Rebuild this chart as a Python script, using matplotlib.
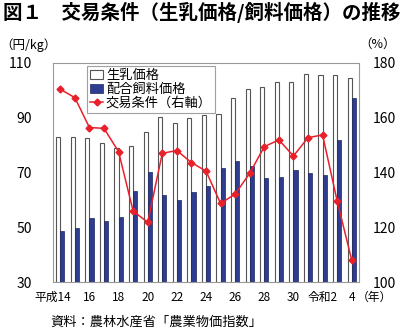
import numpy as np
import matplotlib
matplotlib.use('Agg')
import matplotlib.pyplot as plt

plt.rcParams['font.family'] = ['Noto Sans CJK JP', 'DejaVu Sans']

# Years: Heisei 14 .. Reiwa 4
years = ['平成14', '15', '16', '17', '18', '19', '20', '21', '22', '23', '24',
         '25', '26', '27', '28', '29', '30', '令和元', '2', '3', '4']
tick_labels = ['平成14', '16', '18', '20', '22', '24', '26', '28', '30', '令和2', '4']

milk_price = [82.9, 83.1, 82.6, 80.7, 79.1, 79.5, 84.9, 90.2, 88.2, 89.8, 90.8,
              91.4, 97.3, 100.5, 101.1, 103.0, 103.1, 105.9, 105.5, 105.5, 104.6]
feed_price = [48.6, 49.8, 53.2, 52.1, 53.9, 63.4, 70.1, 61.8, 60.0, 62.9, 64.9,
              71.6, 74.0, 72.4, 68.1, 68.4, 70.9, 69.7, 69.0, 81.9, 97.3]
terms_of_trade = [170.4, 167.3, 156.4, 156.1, 147.6, 125.9, 121.8, 147.0, 148.0, 143.6, 140.5,
                  128.7, 132.1, 139.7, 149.4, 151.9, 146.0, 152.7, 153.7, 129.6, 108.0]

x = np.arange(len(years))
w = 0.28

fig = plt.figure(figsize=(4.0, 3.31), dpi=100)
ax = fig.add_axes([0.1325, 0.148, 0.765, 0.662])

ax.bar(x - w / 2, milk_price, w, color='white', edgecolor='#555555', linewidth=0.8,
       label='生乳価格')
ax.bar(x + w / 2, feed_price, w, color='#2e3d8f', edgecolor='#1c2660', linewidth=0.5,
       label='配合飼料価格')
ax.set_xlim(-0.5, len(years) - 0.5)
ax.set_ylim(30, 110)
ax.set_yticks([30, 50, 70, 90, 110])
ax.tick_params(axis='y', length=0, pad=15, labelsize=10)
ax.set_xticks([])
for s in ax.spines.values():
    s.set_color('#999999')
    s.set_linewidth(0.8)

ax2 = ax.twinx()
ln, = ax2.plot(x, terms_of_trade, color='#e8202a', marker='D', markersize=3.5,
               linewidth=1.1, label='交易条件（右軸）')
ax2.set_ylim(100, 180)
ax2.set_yticks([100, 120, 140, 160, 180])
ax2.tick_params(axis='y', length=0, pad=10, labelsize=10)
for s in ax2.spines.values():
    s.set_visible(False)

# x labels
for i, lab in zip(range(0, len(years), 2), tick_labels):
    dx = -0.55 if i == 0 else 0
    ax.text(i + dx, -0.07, lab, transform=ax.get_xaxis_transform(),
            ha='center', va='center', fontsize=8.5)
ax.text(20.35, -0.07, '（年）', transform=ax.get_xaxis_transform(),
        ha='left', va='center', fontsize=8.5)

h1, l1 = ax.get_legend_handles_labels()
leg = ax.legend(h1 + [ln], l1 + [ln.get_label()], loc='upper left',
                bbox_to_anchor=(0.11, 0.985), fontsize=9.5, frameon=True,
                fancybox=False, edgecolor='#888888', handlelength=1.0,
                handletextpad=0.2, borderpad=0.25, labelspacing=0.05,
                borderaxespad=0)
leg.get_frame().set_linewidth(0.8)

fig.text(0.008, 0.963, '図１　交易条件（生乳価格/飼料価格）の推移', fontsize=14,
         fontweight='bold', va='center', ha='left')
fig.text(0.0, 0.865, '（円/kg）', fontsize=9, va='center', ha='left')
fig.text(0.99, 0.865, '（%）', fontsize=9, va='center', ha='right')
fig.text(0.39, 0.027, '資料：農林水産省「農業物価指数」', fontsize=9.5,
         va='center', ha='center')

fig.savefig('out.png', dpi=100)
